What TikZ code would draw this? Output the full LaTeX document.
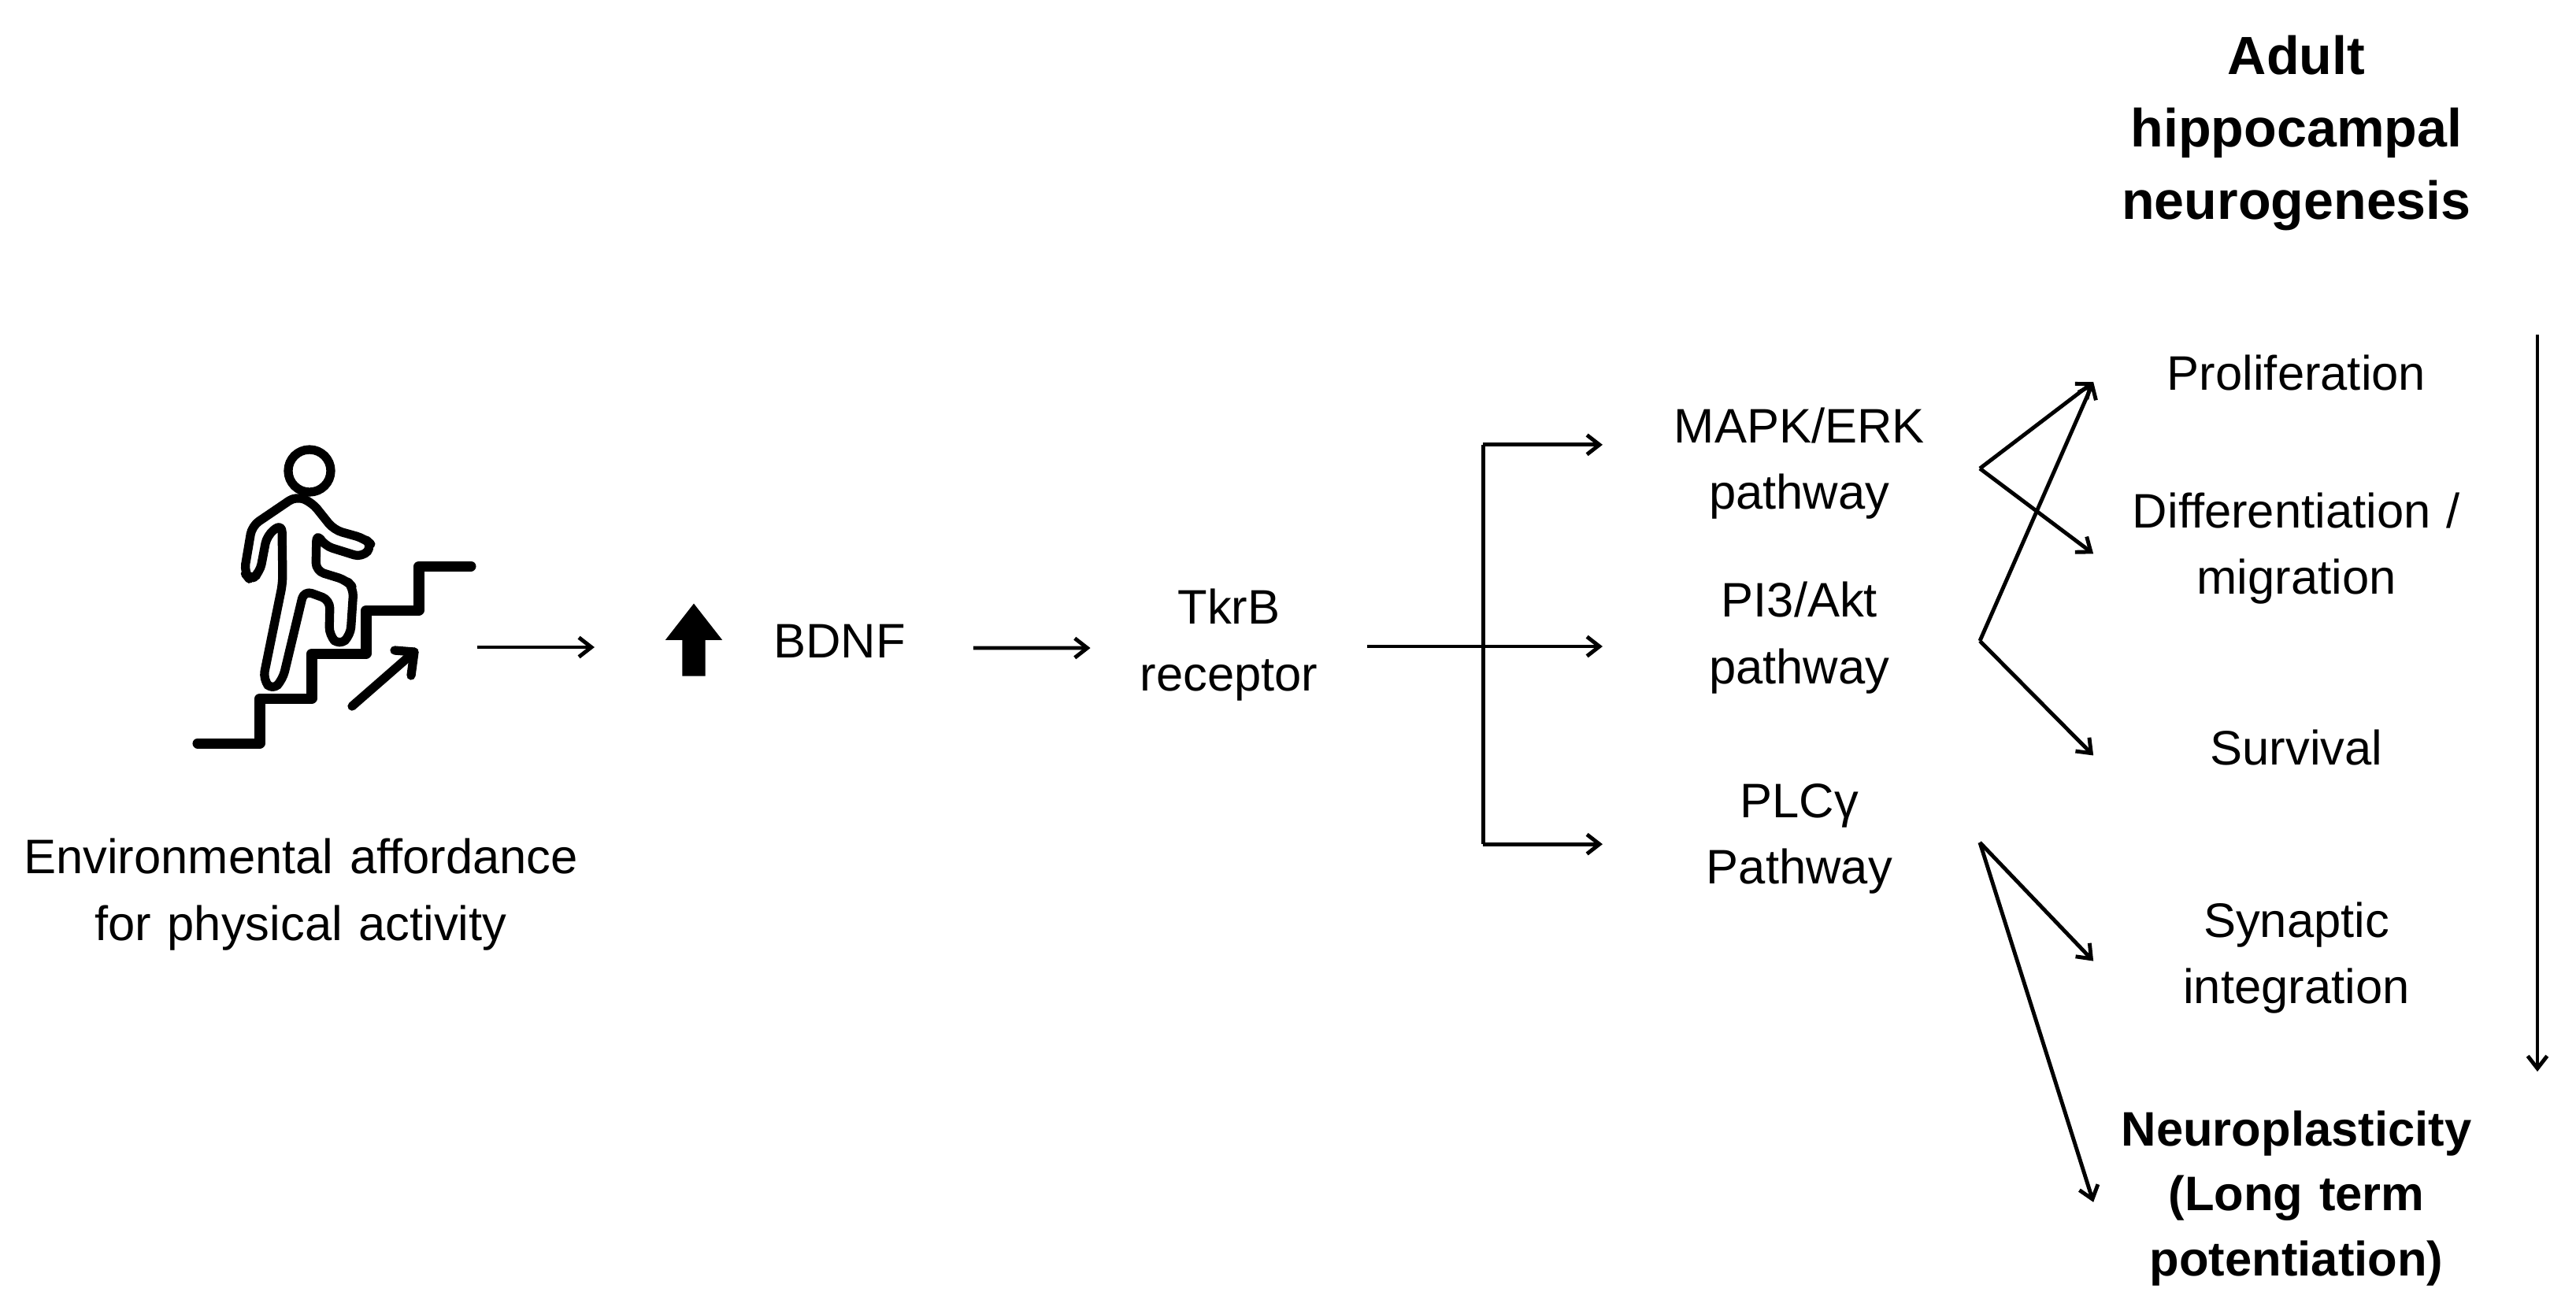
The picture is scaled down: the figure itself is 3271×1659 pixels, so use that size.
\documentclass[tikz,border=0pt]{standalone}
\usepackage{fontspec}
\setmainfont{Liberation Sans}
\usetikzlibrary{arrows.meta, positioning, shapes.arrows}
\tikzset{
  lbl/.style = {
    align=center, inner sep=0pt, text width=5.14cm,
    font=\fontsize{17.5}{24}\selectfont
  },
  pathbox/.style = {lbl, text width=4.98cm},
  hdr/.style = {
    align=center, inner sep=0pt,
    font=\fontsize{19.4}{26.2}\selectfont\bfseries
  },
  arr/.style = {-{Straight Barb[length=4.5pt, width=7pt]}, line width=1.4pt, black},
  trunk/.style = {line width=1.4pt, black},
  icon/.style = {line width=3.7pt, line join=round, line cap=round, black},
  iconthin/.style = {line width=3.2pt, line join=round, line cap=round, black}
}
\begin{document}
\begin{tikzpicture}[x=0.01cm, y=-0.01cm, on grid]
\useasboundingbox (0,0) rectangle (3271,1659);

% walking figure
\draw[icon] (251,944) -- (330,944) -- (330,887) -- (396,887) -- (396,830)
  -- (465,830) -- (465,775) -- (532,775) -- (532,719) -- (598,719);
\draw[iconthin] (447,897) -- (526,828);
\draw[iconthin] (501,826) -- (526,828) -- (522,858);
\draw[iconthin] (393,598) circle (27);
\draw[iconthin, rounded corners=3pt] (376,630) -- (320,668) -- (310,727) -- (318,737) -- (330,727)
  -- (339,680) -- (358,665) -- (359,740) -- (334,863) -- (346,877) -- (359,863)
  -- (386,750) -- (419,762) -- (418,807) -- (431,820) -- (445,807) -- (449,747)
  -- (440,737) -- (401,725) -- (402,677) -- (412,693) -- (460,708) -- (473,693)
  -- (463,684) -- (424,673) -- (396,638) -- cycle;

\node[lbl, text width=7.4cm] (env) at (382,1136) {Environmental affordance\\for physical activity};

% signalling chain
\node[single arrow, fill=black, rotate=90, inner xsep=0pt, inner ysep=0.14cm, minimum height=0.92cm,
      single arrow head extend=0.215cm, single arrow head indent=0pt, single arrow tip angle=76] (upar) at (881,822) {};
\node[lbl, above right=0.08cm and 1.85cm of upar, text width=3.38cm] (bdnf) {BDNF};
\node[lbl, below right=0.05cm and 4.94cm of bdnf, text width=3.5cm] (tkrb) {TkrB\\receptor};
\node[pathbox, above right=0.09cm and 7.24cm of tkrb] (pi3) {PI3/Akt\\pathway};
\node[pathbox, above=2.21cm of pi3] (mapk) {MAPK/ERK\\pathway};
\node[pathbox, below=2.55cm of pi3] (plc) {PLCγ\\Pathway};

\coordinate[left=1.26cm of upar] (upin);
\coordinate[left=1.49cm of upin] (walkout);
\coordinate[right=1.47cm of tkrb.east] (split);
\coordinate[above=0.24cm of mapk.west] (mapkin);
\coordinate[below=0.07cm of plc.west] (plcin);
\draw[arr] (walkout) -- (upin);
\draw[arr] ([yshift=-0.09cm]bdnf.east) -- ([yshift=-0.04cm]tkrb.west);
\draw[arr] ([yshift=-0.02cm]tkrb.east) -- ([yshift=-0.11cm]pi3.west);
\draw[trunk] (split |- mapkin) -- (split |- plcin);
\draw[arr] (split |- mapkin) -- (mapkin);
\draw[arr] (split |- plcin) -- (plcin);

% outcomes
\node[hdr] (title) at (2916,169) {Adult\\hippocampal\\neurogenesis};
\node[lbl, below=3.04cm of title] (prolif) {Proliferation};
\node[lbl, below=2.23cm of prolif] (diff) {Differentiation /\\migration};
\node[lbl, below=2.53cm of diff] (surv) {Survival};
\node[lbl, below=2.67cm of surv] (syn) {Synaptic\\integration};
\node[lbl, below=3.05cm of syn, font=\fontsize{17.5}{23.5}\selectfont\bfseries] (neuro) {Neuroplasticity\\(Long term\\potentiation)};

\coordinate (mapkout) at (2514,595);
\coordinate (pi3out) at (2514,814);
\coordinate (plcout) at (2514,1070);
\draw[arr] (mapkout) -- ([yshift=-0.12cm]prolif.west);
\draw[arr] (mapkout) -- ([yshift=-0.07cm]diff.west);
\draw[arr] (pi3out) -- ([yshift=-0.12cm]prolif.west);
\draw[arr] (pi3out) -- ([yshift=-0.10cm]surv.west);
\draw[arr] (plcout) -- ([yshift=-0.04cm]syn.west);
\draw[arr] (plcout) -- ([yshift=-0.05cm]neuro.west);

\coordinate (timetop) at (3222,425);
\coordinate (timeend) at (3222,1361);
\draw[arr] (timetop) -- (timeend);
\end{tikzpicture}
\end{document}
